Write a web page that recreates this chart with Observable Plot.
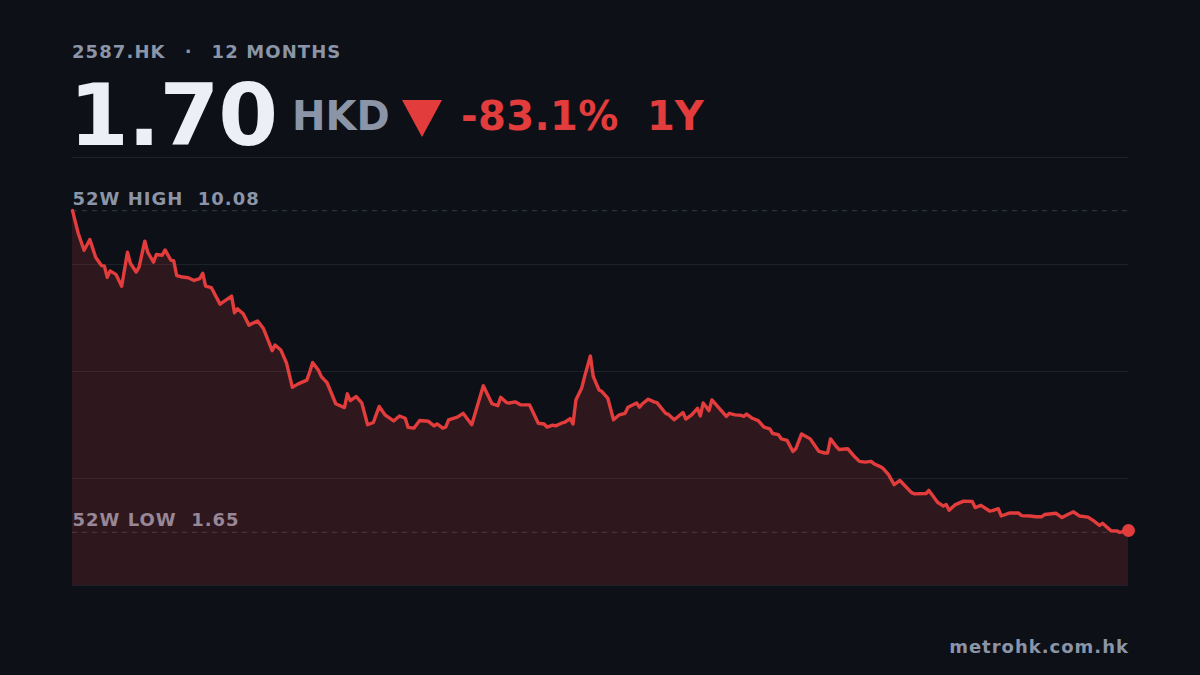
<!DOCTYPE html>
<html>
<head>
<meta charset="utf-8">
<script src="https://cdn.jsdelivr.net/npm/d3@7"></script>
<script src="https://cdn.jsdelivr.net/npm/@observablehq/plot@0.6"></script>
<style>
  html, body { margin: 0; padding: 0; background: #0d1017; }
  #wrap { position: relative; width: 1200px; height: 675px; overflow: hidden;
          font-family: "DejaVu Sans", sans-serif; font-weight: bold; background: #0d1017; }
  .abs { position: absolute; line-height: 1; white-space: pre; }
  #chart { position: absolute; left: 0; top: 140px; }
  #chart svg text { letter-spacing: 1px; }
</style>
</head>
<body>
<div id="wrap">
  <div class="abs" id="sub" style="left:72px; top:43px; font-size:18px; letter-spacing:1.1px; color:#8b95a7;"></div>
  <div class="abs" id="price" style="left:69px; top:72px; font-size:86px; letter-spacing:-1px; color:#eceff6;"></div>
  <div class="abs" id="ccy" style="left:292px; top:96px; font-size:40px; color:#8b95a7;"></div>
  <div class="abs" id="tri" style="left:402px; top:100px; width:0; height:0; border-left:20px solid transparent; border-right:20px solid transparent; border-top:37px solid #e23c3c;"></div>
  <div class="abs" id="chg" style="left:461px; top:96px; font-size:40px; letter-spacing:0.4px; color:#e23c3c;"></div>
  <div class="abs" id="per" style="left:647px; top:96px; font-size:40px; color:#e23c3c;"></div>
  <div id="chart"></div>
  <div class="abs" id="src" style="right:71px; top:638px; font-size:18px; letter-spacing:1px; color:#8b95a7;"></div>
</div>
<script>
// ---- Header values ----
const ticker = "2587.HK";
const periodLabel = "12 MONTHS";
const lastPrice = 1.70;
const currency = "HKD";
const changePct = -83.1;
const periodShort = "1Y";
const high52 = 10.08;
const low52 = 1.65;
const source = "metrohk.com.hk";

// ---- Series: calendar day offset within the 12-month window, closing price (HKD) ----
const days = [
  0, 2, 4, 6, 8, 10, 11, 12, 13, 15, 17, 19, 20, 22, 23, 25, 26, 28, 29, 31,
  32, 34, 35, 36, 38, 40, 42, 44, 45, 46, 48, 51, 55, 56, 57, 59, 61, 64, 66, 68,
  69, 70, 72, 74, 76, 78, 81, 82, 83, 85, 86, 88, 91, 94, 95, 96, 98, 100, 102, 104,
  106, 108, 111, 113, 115, 116, 118, 120, 123, 125, 126, 128, 129, 130, 133, 135, 138, 142, 145, 147,
  148, 150, 151, 153, 155, 158, 161, 163, 164, 166, 167, 169, 170, 172, 173, 174, 176, 177, 179, 180,
  182, 183, 185, 187, 189, 191, 192, 195, 196, 197, 199, 201, 202, 205, 206, 208, 211, 212, 214, 216,
  217, 218, 220, 221, 226, 227, 229, 231, 232, 233, 235, 237, 239, 241, 242, 244, 245, 247, 249, 250,
  252, 255, 258, 260, 261, 262, 264, 265, 268, 270, 272, 274, 276, 277, 279, 280, 282, 284, 286, 290,
  291, 295, 296, 299, 301, 302, 303, 305, 308, 311, 312, 314, 317, 318, 320, 321, 324, 327, 328, 331,
  333, 335, 336, 340, 342, 344, 346, 348, 351, 353, 355, 356, 359, 361, 362, 365
];
const prices = [
  10.08, 9.48, 9.04, 9.32, 8.86, 8.64, 8.63, 8.33, 8.50, 8.41, 8.10, 8.99, 8.70, 8.47, 8.60, 9.28, 8.99, 8.73, 8.93, 8.91,
  9.05, 8.78, 8.76, 8.38, 8.34, 8.32, 8.25, 8.30, 8.44, 8.10, 8.06, 7.63, 7.84, 7.40, 7.51, 7.38, 7.08, 7.19, 6.99, 6.61,
  6.41, 6.56, 6.43, 6.08, 5.45, 5.54, 5.64, 5.86, 6.10, 5.90, 5.73, 5.57, 5.02, 4.92, 5.28, 5.10, 5.21, 5.04, 4.47, 4.53,
  4.95, 4.73, 4.57, 4.70, 4.64, 4.40, 4.38, 4.58, 4.56, 4.44, 4.49, 4.38, 4.41, 4.60, 4.67, 4.77, 4.47, 5.49, 5.02, 4.97,
  5.19, 5.05, 5.04, 5.07, 4.99, 4.99, 4.51, 4.49, 4.41, 4.46, 4.44, 4.51, 4.53, 4.63, 4.49, 5.12, 5.43, 5.73, 6.27, 5.73,
  5.38, 5.34, 5.17, 4.60, 4.73, 4.77, 4.93, 5.04, 4.93, 5.02, 5.14, 5.07, 5.05, 4.77, 4.74, 4.60, 4.79, 4.62, 4.73, 4.90,
  4.70, 5.04, 4.84, 5.12, 4.69, 4.77, 4.73, 4.72, 4.69, 4.75, 4.64, 4.58, 4.41, 4.36, 4.24, 4.21, 4.10, 4.06, 3.77, 3.84,
  4.23, 4.10, 3.77, 3.73, 3.73, 4.10, 3.90, 3.82, 3.84, 3.66, 3.51, 3.49, 3.51, 3.45, 3.38, 3.34, 3.17, 2.90, 3.01, 2.69,
  2.66, 2.67, 2.75, 2.44, 2.34, 2.38, 2.23, 2.37, 2.47, 2.46, 2.30, 2.36, 2.21, 2.22, 2.27, 2.08, 2.16, 2.16, 2.09, 2.08,
  2.06, 2.06, 2.12, 2.15, 2.04, 2.12, 2.19, 2.08, 2.05, 1.95, 1.83, 1.89, 1.69, 1.69, 1.65, 1.70
];

const data = days.map((d, i) => ({ day: d, price: prices[i] }));

// header text
document.getElementById("sub").innerHTML =
  `<span>${ticker}</span><span style="margin:0 19px">·</span><span>${periodLabel}</span>`;
document.getElementById("price").textContent = lastPrice.toFixed(2);
document.getElementById("ccy").textContent = currency;
document.getElementById("chg").textContent = `${changePct.toFixed(1)}%`;
document.getElementById("per").textContent = periodShort;
document.getElementById("src").textContent = source;

// scales
const pad = (high52 - low52) * 0.165;
const yDomain = [low52 - pad, high52 + pad];
const gridTicks = d3.range(5).map(i => yDomain[0] + i * (yDomain[1] - yDomain[0]) / 4);
const refLabels = [
  { value: high52, label: `52W HIGH  ${high52.toFixed(2)}` },
  { value: low52, label: `52W LOW  ${low52.toFixed(2)}` }
];
const last = data[data.length - 1];

const red = "#e23c3c";
const chart = Plot.plot({
  width: 1200,
  height: 475,
  marginTop: 17,
  marginBottom: 30,
  marginLeft: 72,
  marginRight: 72,
  style: { background: "transparent", fontFamily: "DejaVu Sans, sans-serif", overflow: "visible" },
  x: { axis: null, domain: [0, 365] },
  y: { axis: null, domain: yDomain },
  marks: [
    Plot.ruleY(gridTicks, { stroke: "#1d2129", strokeWidth: 1 }),
    Plot.ruleY([high52, low52], { stroke: "#2c313c", strokeWidth: 1.2, strokeDasharray: "5,5" }),
    Plot.text(refLabels, {
      y: "value", text: "label", frameAnchor: "left", textAnchor: "start",
      lineAnchor: "bottom", dy: -6, fill: "#8b95a7", fontSize: 18, fontWeight: "bold"
    }),
    Plot.areaY(data, { x: "day", y1: yDomain[0], y2: "price", fill: red, fillOpacity: 0.16 }),
    Plot.lineY(data, { x: "day", y: "price", stroke: red, strokeWidth: 3.4, strokeLinejoin: "round", strokeLinecap: "round" }),
    Plot.dot([last], { x: "day", y: "price", r: 6.5, fill: red })
  ]
});
document.getElementById("chart").appendChild(chart);
</script>
</body>
</html>
